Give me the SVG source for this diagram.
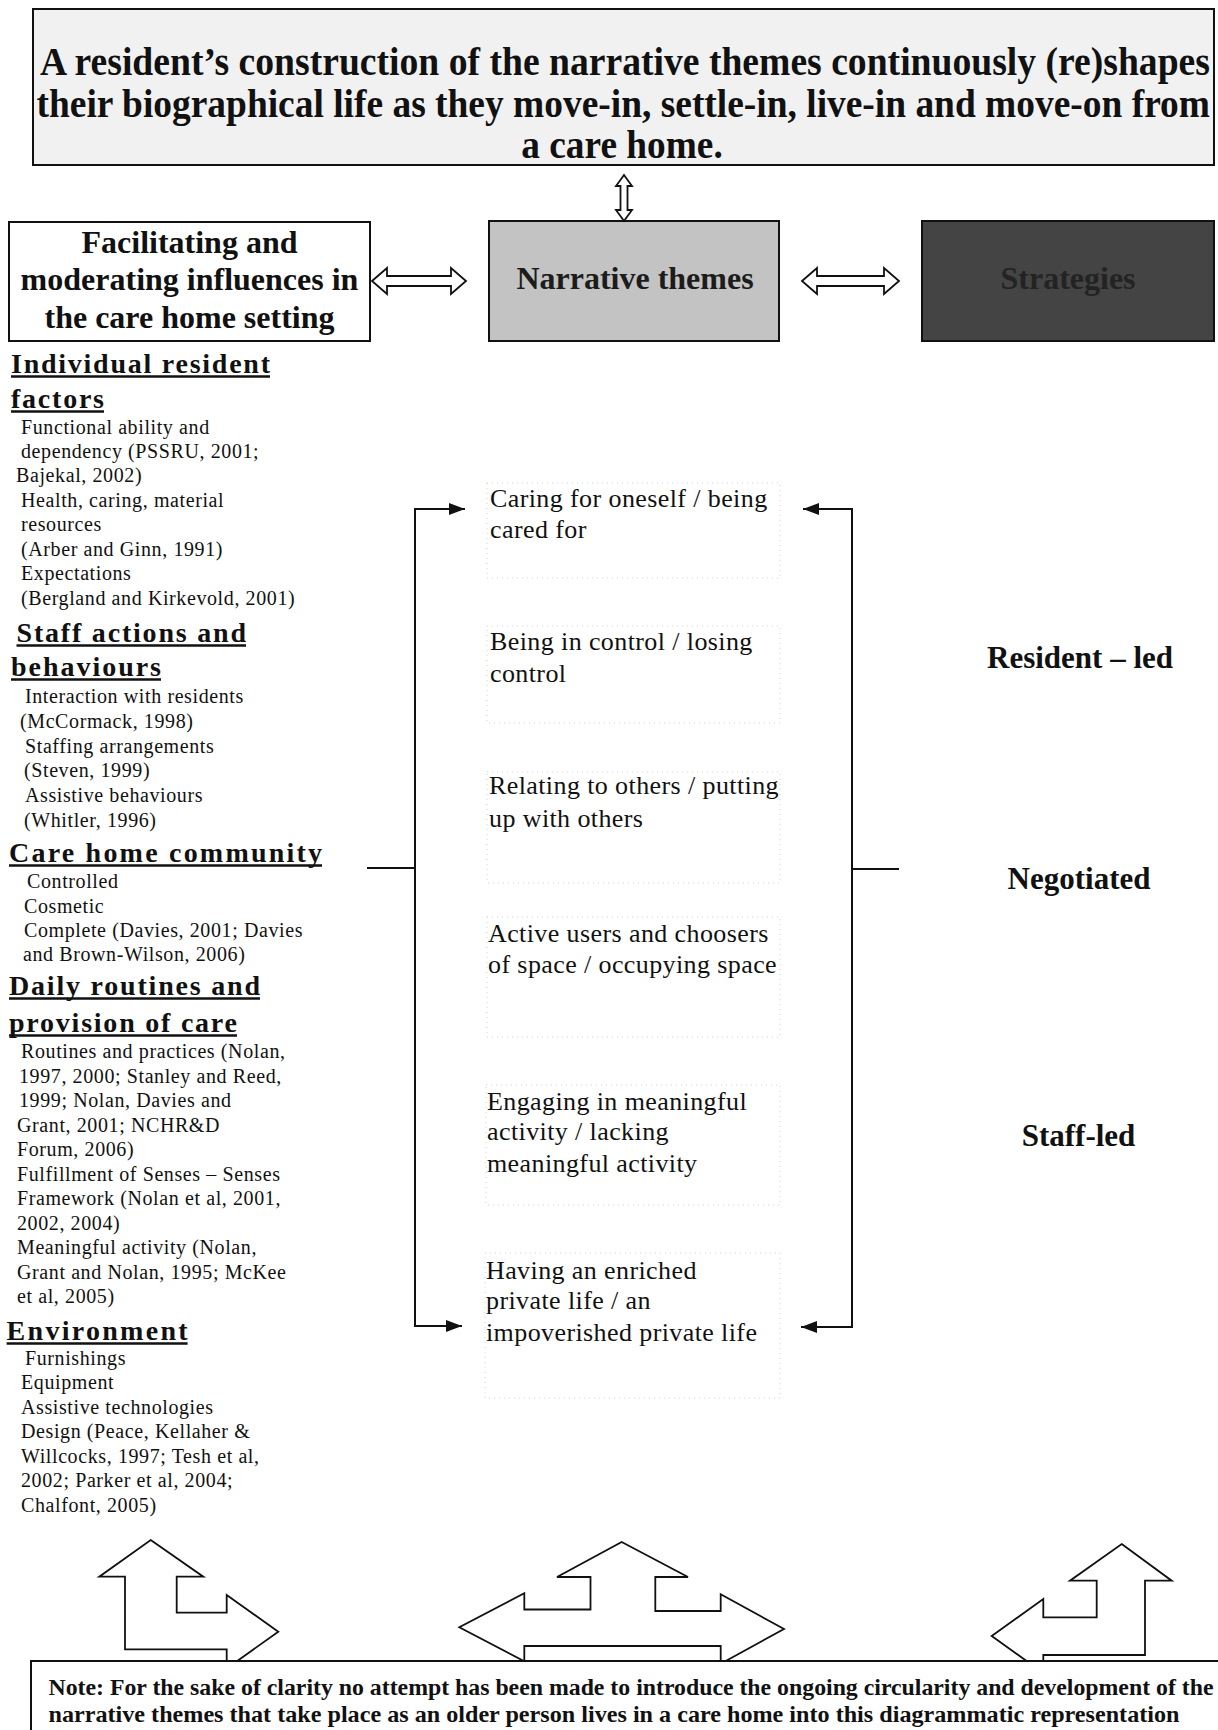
<svg xmlns="http://www.w3.org/2000/svg" width="1218" height="1730" viewBox="0 0 1218 1730">
<style>
  text{font-family:"Liberation Serif","Times New Roman",serif;fill:#111}
  .title{font-size:40px;font-weight:bold}
  .hdr{font-size:32px;font-weight:bold}
  .h{font-size:28px;font-weight:bold}
  .body{font-size:20px;letter-spacing:0.6px}
  .theme{font-size:26px;letter-spacing:0.4px}
  .lab{font-size:31px;font-weight:bold}
  .note{font-size:23.5px;font-weight:bold}
  .box{stroke:#111;stroke-width:2}
  .shape{fill:#fff;stroke:#111;stroke-width:1.8;stroke-linejoin:miter}
  .line{stroke:#111;stroke-width:2;fill:none}
  .dot{fill:none;stroke:#d2d2d2;stroke-width:1;stroke-dasharray:1 4}
  .ul{stroke:#111;stroke-width:2.5}
</style>
<defs>
  <marker id="ah" viewBox="0 0 16 12" refX="16" refY="6" markerWidth="16" markerHeight="12" markerUnits="userSpaceOnUse" orient="auto">
    <path d="M0,0 L16,6 L0,12 Z" fill="#111"/>
  </marker>
</defs>
<rect width="1218" height="1730" fill="#fff"/>

<g id="title-box">
  <rect class="box" x="33" y="9" width="1181" height="156" fill="#f1f1f1" stroke-width="2.5"/>
  <text class="title" transform="translate(40,75) scale(0.941,1)">A resident’s construction of the narrative themes continuously (re)shapes</text>
  <text class="title" transform="translate(36.5,117) scale(0.936,1)">their biographical life as they move-in, settle-in, live-in and move-on from</text>
  <text class="title" transform="translate(622,158) scale(0.934,1)" text-anchor="middle">a care home.</text>
</g>

<g id="influences-box">
  <rect class="box" x="9" y="222" width="361" height="119" fill="#fff"/>
  <text class="hdr" x="189.5" y="253" text-anchor="middle">Facilitating and</text>
  <text class="hdr" x="189.5" y="290" text-anchor="middle">moderating influences in</text>
  <text class="hdr" x="189.5" y="328" text-anchor="middle">the care home setting</text>
</g>

<g id="narrative-box">
  <rect class="box" x="489" y="221" width="290" height="120" fill="#c3c3c3"/>
  <text class="hdr" x="635" y="289" text-anchor="middle" style="fill:#1c1c1c">Narrative themes</text>
</g>

<g id="strategies-box">
  <rect class="box" x="922" y="221" width="292" height="120" fill="#444"/>
  <text class="hdr" x="1068" y="289" text-anchor="middle" style="fill:#232323">Strategies</text>
</g>

<g id="influence-factors">
  <g id="individual-resident-factors">
    <text class="h" x="11" y="373" textLength="259" lengthAdjust="spacing">Individual resident</text>
    <text class="h" x="11" y="408" textLength="93" lengthAdjust="spacing">factors</text>
    <line class="ul" x1="11" y1="376.5" x2="270" y2="376.5"/>
    <line class="ul" x1="11" y1="411.5" x2="104" y2="411.5"/>
    <text class="body" x="21" y="434">Functional ability and</text>
    <text class="body" x="21" y="458">dependency (PSSRU, 2001;</text>
    <text class="body" x="16" y="482">Bajekal, 2002)</text>
    <text class="body" x="21" y="507">Health, caring, material</text>
    <text class="body" x="21" y="531">resources</text>
    <text class="body" x="21" y="556">(Arber and Ginn, 1991)</text>
    <text class="body" x="21" y="580">Expectations</text>
    <text class="body" x="21" y="605">(Bergland and Kirkevold, 2001)</text>
  </g>
  <g id="staff-actions">
    <text class="h" x="16.5" y="642" textLength="229.5" lengthAdjust="spacing">Staff actions and</text>
    <text class="h" x="11" y="676" textLength="150" lengthAdjust="spacing">behaviours</text>
    <line class="ul" x1="16.5" y1="645.5" x2="246" y2="645.5"/>
    <line class="ul" x1="11" y1="679.5" x2="161" y2="679.5"/>
    <text class="body" x="25" y="703">Interaction with residents</text>
    <text class="body" x="20" y="728">(McCormack, 1998)</text>
    <text class="body" x="25" y="753">Staffing arrangements</text>
    <text class="body" x="24" y="777">(Steven, 1999)</text>
    <text class="body" x="25" y="802">Assistive behaviours</text>
    <text class="body" x="24" y="827">(Whitler, 1996)</text>
  </g>
  <g id="care-home-community">
    <text class="h" x="9" y="862" textLength="313" lengthAdjust="spacing">Care home community</text>
    <line class="ul" x1="9" y1="865.5" x2="322" y2="865.5"/>
    <text class="body" x="27" y="888">Controlled</text>
    <text class="body" x="24" y="913">Cosmetic</text>
    <text class="body" x="24" y="937">Complete (Davies, 2001; Davies</text>
    <text class="body" x="23" y="961">and Brown-Wilson, 2006)</text>
  </g>
  <g id="daily-routines">
    <text class="h" x="9" y="995" textLength="251" lengthAdjust="spacing">Daily routines and</text>
    <text class="h" x="9" y="1032" textLength="228" lengthAdjust="spacing">provision of care</text>
    <line class="ul" x1="9" y1="998.5" x2="260" y2="998.5"/>
    <line class="ul" x1="9" y1="1035.5" x2="237" y2="1035.5"/>
    <text class="body" x="21" y="1058">Routines and practices (Nolan,</text>
    <text class="body" x="19" y="1083">1997, 2000; Stanley and Reed,</text>
    <text class="body" x="19" y="1107">1999; Nolan, Davies and</text>
    <text class="body" x="17" y="1132">Grant, 2001; NCHR&amp;D</text>
    <text class="body" x="17" y="1156">Forum, 2006)</text>
    <text class="body" x="17" y="1181">Fulfillment of Senses – Senses</text>
    <text class="body" x="17" y="1205">Framework (Nolan et al, 2001,</text>
    <text class="body" x="17" y="1230">2002, 2004)</text>
    <text class="body" x="17" y="1254">Meaningful activity (Nolan,</text>
    <text class="body" x="17" y="1279">Grant and Nolan, 1995; McKee</text>
    <text class="body" x="17" y="1303">et al, 2005)</text>
  </g>
  <g id="environment">
    <text class="h" x="6.6" y="1340" textLength="181" lengthAdjust="spacing">Environment</text>
    <line class="ul" x1="6.6" y1="1343.5" x2="187.6" y2="1343.5"/>
    <text class="body" x="25" y="1365">Furnishings</text>
    <text class="body" x="21" y="1389">Equipment</text>
    <text class="body" x="21" y="1414">Assistive technologies</text>
    <text class="body" x="21" y="1438">Design (Peace, Kellaher &amp;</text>
    <text class="body" x="21" y="1463">Willcocks, 1997; Tesh et al,</text>
    <text class="body" x="21" y="1487">2002; Parker et al, 2004;</text>
    <text class="body" x="21" y="1512">Chalfont, 2005)</text>
  </g>
</g>

<g id="themes">
  <g id="theme-caring">
    <rect class="dot" x="487" y="483" width="293" height="95"/>
    <text class="theme" x="490" y="507">Caring for oneself / being</text>
    <text class="theme" x="490" y="538">cared for</text>
  </g>
  <g id="theme-control">
    <rect class="dot" x="487" y="626" width="293" height="97"/>
    <text class="theme" x="490" y="650">Being in control / losing</text>
    <text class="theme" x="490" y="682">control</text>
  </g>
  <g id="theme-relating">
    <rect class="dot" x="487" y="772" width="293" height="111"/>
    <text class="theme" x="489" y="794">Relating to others / putting</text>
    <text class="theme" x="489" y="827">up with others</text>
  </g>
  <g id="theme-space">
    <rect class="dot" x="487" y="917" width="293" height="120"/>
    <text class="theme" x="488" y="942">Active users and choosers</text>
    <text class="theme" x="488" y="973">of space / occupying space</text>
  </g>
  <g id="theme-activity">
    <rect class="dot" x="486" y="1085" width="294" height="120"/>
    <text class="theme" x="487" y="1110">Engaging in meaningful</text>
    <text class="theme" x="487" y="1140">activity / lacking</text>
    <text class="theme" x="487" y="1172">meaningful activity</text>
  </g>
  <g id="theme-private">
    <rect class="dot" x="485" y="1253" width="295" height="145"/>
    <text class="theme" x="486" y="1279">Having an enriched</text>
    <text class="theme" x="486" y="1309">private life / an</text>
    <text class="theme" x="486" y="1341">impoverished private life</text>
  </g>
</g>

<g id="strategy-labels">
  <text class="lab" x="1080" y="668" text-anchor="middle">Resident – led</text>
  <text class="lab" x="1079" y="889" text-anchor="middle">Negotiated</text>
  <text class="lab" x="1078.5" y="1146" text-anchor="middle">Staff-led</text>
</g>

<g id="connectors">
  <path class="shape" d="M624,175 L632,186 L627.5,186 L627.5,210 L632,210 L624,221 L616,210 L620.5,210 L620.5,186 L616,186 Z"/>
  <path class="shape" d="M372,281 L387,268 L387,276 L451,276 L451,268 L466,281 L451,294 L451,286 L387,286 L387,294 Z"/>
  <path class="shape" d="M802,281 L817,268 L817,276 L884,276 L884,268 L899,281 L884,294 L884,286 L817,286 L817,294 Z"/>
  <path class="line" d="M367,868 H415"/>
  <path class="line" d="M415,869 V509 H465" marker-end="url(#ah)"/>
  <path class="line" d="M415,867 V1326 H462" marker-end="url(#ah)"/>
  <path class="line" d="M852,869 H899"/>
  <path class="line" d="M852,870 V509 H803" marker-end="url(#ah)"/>
  <path class="line" d="M852,868 V1327 H801" marker-end="url(#ah)"/>
  <path class="shape" d="M150.7,1540 L203.3,1576.7 L176.7,1576.7 L176.7,1612.7 L226.7,1612.7 L226.7,1595 L278.3,1631.7 L226.7,1668.4 L226.7,1649.3 L125,1649.3 L125,1576.7 L99.3,1576.7 Z"/>
  <path class="shape" d="M621.7,1542 L688,1577 L655.3,1577 L655.3,1611 L720.7,1611 L720.7,1594.3 L784,1629 L720.7,1663.7 L720.7,1646 L524.3,1646 L524.3,1661.3 L459.3,1627.3 L524.3,1593.3 L524.3,1609.5 L590.5,1609.5 L590.5,1577 L557,1577 Z"/>
  <path class="shape" d="M1121.7,1544 L1171.7,1580.7 L1145,1580.7 L1145,1655 L1043.3,1655 L1043.3,1673 L991.7,1636 L1043.3,1599 L1043.3,1617.3 L1096.7,1617.3 L1096.7,1580.7 L1070,1580.7 Z"/>
</g>

<g id="note-box">
  <rect x="31" y="1661" width="1187" height="69" fill="#fff"/>
  <path d="M31,1730 V1661 H1218" fill="none" stroke="#111" stroke-width="2"/>
  <text class="note" x="48.5" y="1695" textLength="1165" lengthAdjust="spacingAndGlyphs">Note: For the sake of clarity no attempt has been made to introduce the ongoing circularity and development of the</text>
  <text class="note" x="48.5" y="1722" textLength="1131" lengthAdjust="spacingAndGlyphs">narrative themes that take place as an older person lives in a care home into this diagrammatic representation</text>
</g>
</svg>
